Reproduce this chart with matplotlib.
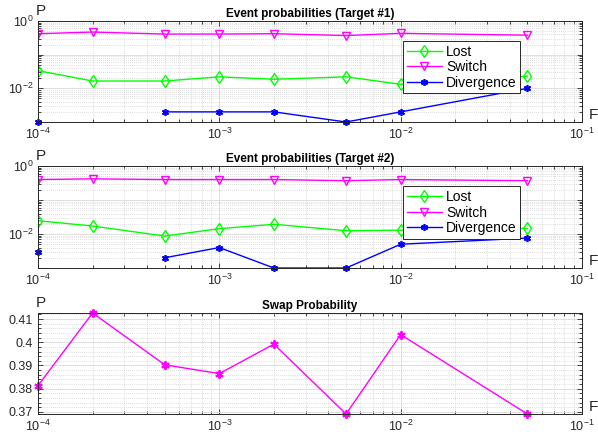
import numpy as np
import matplotlib
matplotlib.use("Agg")
import matplotlib.pyplot as plt
from matplotlib.ticker import MultipleLocator, LogLocator, NullFormatter

plt.rcParams['font.family'] = ['Liberation Sans', 'DejaVu Sans']
plt.rcParams['mathtext.default'] = 'regular'

F = [1e-4, 2e-4, 5e-4, 1e-3, 2e-3, 5e-3, 1e-2, 5e-2]

# target #1
lost1 = [0.0335, 0.0165, 0.0165, 0.022, 0.0186, 0.022, 0.0132, 0.023]
switch1 = [0.42, 0.47, 0.41, 0.41, 0.42, 0.37, 0.43, 0.38]
diverg1 = [0.001, np.nan, 0.002, 0.002, 0.002, 0.001, 0.002, 0.01]

# target #2
lost2 = [0.0246, 0.0172, 0.0087, 0.0144, 0.0193, 0.0125, 0.013, 0.0147]
switch2 = [0.40, 0.42, 0.40, 0.40, 0.40, 0.37, 0.40, 0.37]
diverg2 = [0.0029, np.nan, 0.002, 0.004, 0.001, 0.001, 0.005, 0.0076]

# swap
swap = [0.3813, 0.4126, 0.3903, 0.3865, 0.3992, 0.3691, 0.4033, 0.3691]

green = (0.0, 1.0, 0.0)
magenta = (1.0, 0.0, 1.0)
blue = (0.0, 0.0, 1.0)

fig = plt.figure(figsize=(5.98, 4.37), dpi=100)
pos = [[0.0635, 0.7208, 0.9097, 0.2311],
       [0.0635, 0.3867, 0.9097, 0.2334],
       [0.0635, 0.0526, 0.9097, 0.2311]]


def style(ax):
    ax.set_xscale('log')
    ax.set_xlim(1e-4, 1e-1)
    ax.xaxis.set_major_locator(LogLocator(base=10, numticks=10))
    ax.xaxis.set_minor_locator(LogLocator(base=10, subs=np.arange(2, 10), numticks=20))
    ax.xaxis.set_minor_formatter(NullFormatter())
    ax.tick_params(which='both', direction='in', top=True, right=True,
                   labelsize=9, width=0.6, colors='0.15')
    ax.tick_params(which='major', length=3.5)
    ax.tick_params(which='minor', length=2)
    ax.grid(True, which='major', color='0.85', lw=0.6, ls='-')
    ax.grid(True, which='minor', color='0.75', lw=0.5, ls=(0, (1, 2)))
    ax.set_axisbelow(True)
    for s in ax.spines.values():
        s.set_linewidth(0.7)
        s.set_color('0.15')
    ax.text(-0.005, 1.03, 'P', transform=ax.transAxes, fontsize=11, ha='left', va='bottom', color='0.15')
    ax.text(1.012, 0.0, 'F', transform=ax.transAxes, fontsize=11, ha='left', va='bottom', color='0.15')


titles = ['Event probabilities (Target #1)', 'Event probabilities (Target #2)']
for i, (lo, sw, dv) in enumerate([(lost1, switch1, diverg1), (lost2, switch2, diverg2)]):
    ax = fig.add_axes(pos[i])
    ax.plot(F, lo, color=green, lw=1, marker='d', mfc='none', ms=6, mew=1, label='Lost')
    ax.plot(F, sw, color=magenta, lw=1, marker='v', mfc='none', ms=6, mew=1, label='Switch')
    ax.plot(F, dv, color=blue, lw=1, marker=(6, 2, 0), ms=5, mew=1.2, label='Divergence', clip_on=False)
    ax.set_yscale('log')
    ax.set_ylim(1e-3, 1)
    ax.yaxis.set_major_locator(LogLocator(base=10, subs=[1.0], numticks=10))
    ax.yaxis.set_major_formatter(plt.FuncFormatter(
        lambda v, p: '$10^{%d}$' % round(np.log10(v)) if round(np.log10(v)) % 2 == 0 else ''))
    ax.yaxis.set_minor_locator(LogLocator(base=10, subs=np.arange(2, 10), numticks=20))
    ax.yaxis.set_minor_formatter(NullFormatter())
    style(ax)
    ax.set_title(titles[i], fontsize=8.5, fontweight='bold', pad=3)
    leg = ax.legend(loc='upper right', bbox_to_anchor=(0.886, 0.80), fontsize=10,
                    handlelength=2.5, borderpad=0.25, labelspacing=0.12,
                    handletextpad=0.3, fancybox=False, framealpha=1, borderaxespad=0)
    leg.get_frame().set_edgecolor('0.15')
    leg.get_frame().set_linewidth(0.7)

ax = fig.add_axes(pos[2])
ax.plot(F, swap, color=magenta, lw=1, marker=(6, 2, 0), ms=6, mew=1.4, clip_on=False)
ax.set_ylim(min(swap), max(swap))
ax.yaxis.set_major_locator(MultipleLocator(0.01))
ax.yaxis.set_minor_locator(MultipleLocator(0.002))
ax.yaxis.set_major_formatter(plt.FuncFormatter(lambda v, p: ('%.2f' % v).rstrip('0')))
style(ax)
ax.set_title('Swap Probability', fontsize=8.5, fontweight='bold', pad=3)

fig.savefig('out.png', dpi=100)
